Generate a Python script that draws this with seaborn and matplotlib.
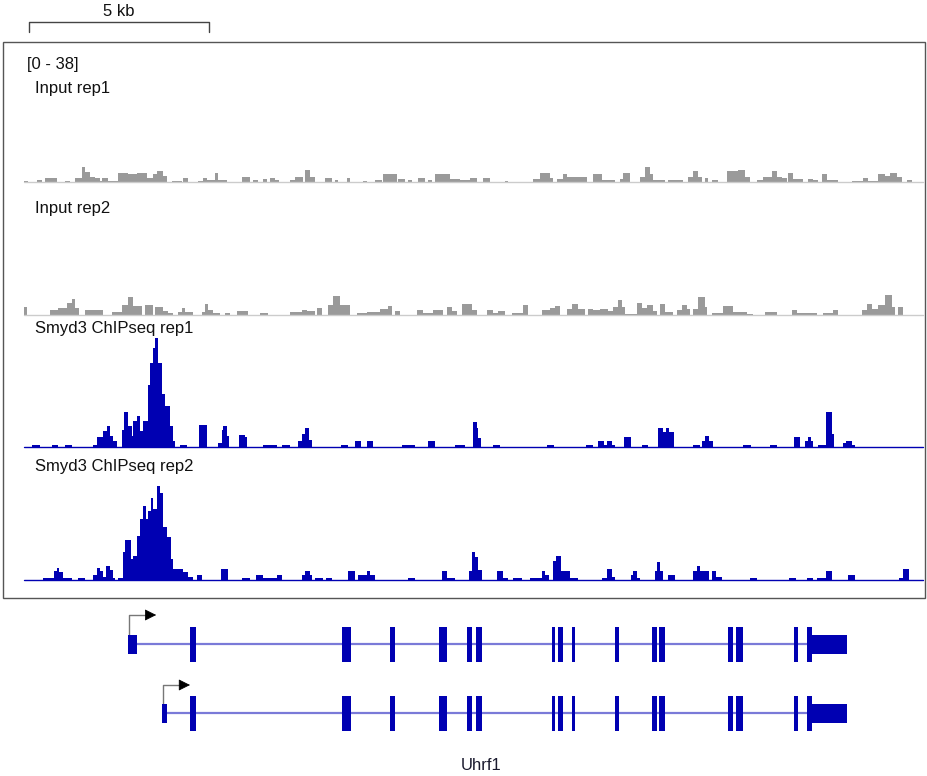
import matplotlib
matplotlib.use("Agg")
import numpy as np
import pandas as pd
import matplotlib.pyplot as plt
import seaborn as sns
from matplotlib.patches import Rectangle

# ---- data (positions in kb from left edge of the view, values on the [0 - 38] scale) ----
view_kb = (0, 24.97)
data_range = (0, 38)
scale_bar_kb = (0.14, 5.14)   # 5 kb

# (start, end, value) steps, like a bedGraph
input_rep1 = [
    (0.00, 0.11, 0.3), (0.36, 0.50, 0.6), (0.58, 0.92, 1.2), (1.14, 1.28, 0.3), (1.42, 1.61, 1.2),
    (1.61, 1.69, 4.5), (1.69, 1.83, 3.0), (1.83, 1.97, 1.5), (1.97, 2.11, 1.2), (2.11, 2.17, 0.3),
    (2.17, 2.33, 1.2), (2.33, 2.61, 0.3), (2.61, 2.89, 2.7), (2.89, 3.14, 2.4), (3.14, 3.42, 2.6),
    (3.42, 3.58, 1.2), (3.58, 3.69, 2.4), (3.69, 3.86, 3.3), (3.86, 3.97, 1.8), (4.11, 4.39, 0.3),
    (4.42, 4.56, 1.2), (4.83, 4.97, 0.3), (4.97, 5.08, 1.2), (5.08, 5.31, 0.6), (5.31, 5.39, 2.7),
    (5.39, 5.64, 0.6), (6.06, 6.28, 1.5), (6.36, 6.50, 0.6), (6.64, 6.75, 0.9), (6.83, 6.97, 1.2),
    (6.97, 7.08, 0.6), (7.39, 7.53, 0.6), (7.53, 7.75, 1.5), (7.81, 7.94, 3.6), (7.94, 8.08, 1.5),
    (8.36, 8.56, 1.2), (8.64, 8.72, 0.6), (8.97, 9.06, 1.2), (9.42, 9.53, 0.3), (9.75, 9.94, 0.6),
    (9.97, 10.36, 2.4), (10.39, 10.58, 0.9), (10.67, 10.78, 0.6), (10.94, 11.14, 1.2), (11.22, 11.33, 0.6),
    (11.42, 11.83, 2.4), (11.83, 12.11, 0.9), (12.11, 12.39, 0.6), (12.39, 12.58, 1.2), (12.75, 12.94, 1.2),
    (13.36, 13.44, 0.3), (14.14, 14.33, 0.9), (14.33, 14.61, 2.7), (14.61, 14.69, 1.2), (14.81, 14.97, 0.9),
    (14.97, 15.08, 2.4), (15.08, 15.64, 1.5), (15.81, 16.06, 2.4), (16.06, 16.42, 0.6), (16.56, 16.64, 0.9),
    (16.64, 16.83, 2.7), (17.11, 17.25, 1.5), (17.25, 17.39, 4.5), (17.39, 17.47, 2.4), (17.47, 17.81, 0.6),
    (17.89, 18.31, 0.6), (18.44, 18.58, 1.5), (18.58, 18.72, 3.3), (18.72, 18.83, 1.5), (18.92, 19.00, 1.2),
    (19.11, 19.28, 0.6), (19.53, 19.83, 3.3), (19.83, 20.03, 3.6), (20.03, 20.17, 1.5), (20.36, 20.53, 0.6),
    (20.53, 20.78, 1.5), (20.78, 20.92, 3.3), (20.92, 21.06, 1.5), (21.06, 21.19, 1.2), (21.22, 21.36, 2.7),
    (21.36, 21.64, 0.9), (21.78, 21.92, 0.9), (21.92, 22.06, 0.6), (22.17, 22.31, 2.4), (22.31, 22.61, 0.6),
    (23.00, 23.31, 0.3), (23.31, 23.44, 1.2), (23.44, 23.72, 0.3), (23.72, 23.92, 2.4), (23.92, 24.06, 1.8),
    (24.06, 24.25, 2.7), (24.25, 24.39, 1.5), (24.53, 24.67, 0.6),
]

input_rep2 = [
    (0.00, 0.08, 2.4), (0.72, 0.94, 1.5), (0.94, 1.19, 2.1), (1.19, 1.33, 3.6), (1.33, 1.42, 4.8),
    (1.42, 1.53, 2.1), (1.69, 2.19, 1.5), (2.44, 2.72, 0.9), (2.72, 2.89, 3.0), (2.89, 3.03, 5.5),
    (3.03, 3.28, 2.7), (3.36, 3.58, 3.0), (3.64, 3.86, 2.4), (3.86, 4.00, 1.2), (4.00, 4.14, 0.6),
    (4.28, 4.39, 0.9), (4.39, 4.47, 2.1), (4.47, 4.69, 0.9), (4.94, 5.03, 0.9), (5.03, 5.11, 3.4),
    (5.11, 5.25, 1.5), (5.25, 5.44, 0.6), (5.58, 5.72, 0.6), (5.92, 6.22, 1.2), (6.56, 6.78, 0.6),
    (7.39, 7.72, 0.9), (7.72, 7.86, 1.5), (7.86, 8.08, 1.2), (8.14, 8.28, 2.2), (8.44, 8.58, 3.0),
    (8.58, 8.78, 5.8), (8.78, 9.06, 3.0), (9.25, 9.53, 0.6), (9.53, 9.89, 0.9), (9.89, 10.11, 1.8),
    (10.11, 10.22, 2.7), (10.31, 10.44, 1.2), (10.92, 11.08, 1.5), (11.08, 11.36, 0.6), (11.36, 11.64, 1.5),
    (11.75, 11.89, 2.4), (11.89, 12.03, 1.2), (12.17, 12.44, 3.2), (12.44, 12.58, 1.5), (12.86, 13.03, 1.5),
    (13.03, 13.17, 0.6), (13.17, 13.36, 1.2), (13.56, 13.86, 0.6), (13.86, 14.00, 3.0), (14.39, 14.61, 1.5),
    (14.61, 14.75, 2.1), (14.75, 14.89, 2.7), (15.08, 15.22, 1.8), (15.22, 15.39, 3.3), (15.39, 15.58, 1.8),
    (15.67, 15.81, 1.8), (15.81, 16.00, 1.5), (16.00, 16.22, 1.8), (16.22, 16.36, 1.2), (16.36, 16.50, 2.4),
    (16.50, 16.61, 4.7), (16.61, 16.69, 2.4), (16.69, 17.03, 0.3), (17.03, 17.17, 3.6), (17.17, 17.31, 2.1),
    (17.31, 17.47, 3.0), (17.47, 17.58, 1.2), (17.67, 17.81, 3.3), (17.81, 18.03, 0.9), (18.14, 18.28, 1.5),
    (18.28, 18.42, 3.0), (18.42, 18.50, 1.8), (18.58, 18.72, 1.8), (18.72, 18.92, 5.5), (18.92, 18.97, 2.4),
    (19.11, 19.42, 0.6), (19.42, 19.69, 2.7), (19.69, 20.08, 1.0), (20.08, 20.25, 0.3), (20.58, 20.92, 0.9),
    (21.33, 21.47, 1.5), (21.47, 22.03, 0.6), (22.19, 22.47, 0.6), (22.47, 22.61, 1.5), (23.28, 23.42, 1.5),
    (23.42, 23.56, 3.3), (23.56, 23.72, 1.8), (23.72, 23.92, 3.0), (23.92, 24.11, 6.2), (24.11, 24.19, 2.4),
    (24.28, 24.42, 2.4),
]

smyd3_rep1 = [
    (0.22, 0.44, 0.7), (0.78, 0.94, 0.7), (1.14, 1.33, 0.7), (1.92, 2.03, 0.7), (2.03, 2.19, 3.0),
    (2.19, 2.31, 5.0), (2.31, 2.39, 6.3), (2.39, 2.47, 3.2), (2.47, 2.58, 1.7), (2.72, 2.78, 5.2),
    (2.78, 2.89, 10.5), (2.89, 3.00, 6.3), (3.00, 3.03, 3.2), (3.03, 3.14, 7.8), (3.14, 3.22, 9.5),
    (3.22, 3.31, 5.0), (3.31, 3.44, 7.8), (3.44, 3.50, 19.0), (3.50, 3.58, 25.5), (3.58, 3.64, 30.0),
    (3.64, 3.72, 33.0), (3.72, 3.83, 25.5), (3.83, 3.92, 16.0), (3.92, 4.06, 12.4), (4.06, 4.14, 6.3),
    (4.14, 4.19, 1.7), (4.33, 4.53, 0.7), (4.86, 5.08, 6.6), (5.39, 5.50, 1.2), (5.50, 5.53, 5.2),
    (5.53, 5.64, 6.4), (5.64, 5.69, 3.2), (5.97, 6.14, 3.5), (6.14, 6.19, 3.0), (6.64, 7.03, 0.7),
    (7.17, 7.39, 0.7), (7.61, 7.72, 1.7), (7.72, 7.81, 4.0), (7.81, 7.92, 5.7), (7.92, 8.00, 2.2),
    (8.81, 9.00, 0.7), (9.19, 9.36, 1.7), (9.53, 9.69, 1.7), (10.50, 10.86, 0.7), (11.22, 11.42, 1.7),
    (11.97, 12.25, 0.7), (12.46, 12.57, 7.5), (12.57, 12.62, 5.8), (12.62, 12.69, 2.7), (13.03, 13.22, 0.7),
    (14.53, 14.72, 0.7), (15.61, 15.81, 0.7), (15.94, 16.11, 1.7), (16.11, 16.19, 0.7), (16.19, 16.33, 1.7),
    (16.33, 16.42, 0.7), (16.67, 16.86, 2.9), (17.17, 17.33, 0.7), (17.61, 17.75, 5.8), (17.75, 17.83, 4.7),
    (17.83, 17.92, 5.8), (17.92, 18.06, 4.7), (18.58, 18.78, 0.7), (18.83, 18.92, 1.9), (18.92, 19.03, 3.4),
    (19.03, 19.14, 1.7), (19.97, 20.19, 0.7), (20.72, 20.92, 0.7), (21.39, 21.56, 2.9), (21.69, 21.78, 1.7),
    (21.78, 21.86, 2.9), (21.86, 21.92, 1.7), (22.06, 22.28, 0.7), (22.28, 22.44, 10.5), (22.44, 22.50, 4.0),
    (22.75, 22.83, 1.2), (22.83, 23.00, 1.7), (23.00, 23.08, 0.7),
]

smyd3_rep2 = [
    (0.53, 0.83, 0.6), (0.83, 0.92, 2.6), (0.92, 0.97, 3.5), (0.97, 1.08, 2.5), (1.08, 1.33, 0.6),
    (1.50, 1.69, 0.6), (1.92, 2.03, 1.6), (2.03, 2.11, 3.8), (2.11, 2.19, 2.8), (2.19, 2.28, 1.0),
    (2.28, 2.39, 4.3), (2.39, 2.47, 3.0), (2.47, 2.53, 0.6), (2.61, 2.75, 0.6), (2.75, 2.81, 8.4),
    (2.81, 2.97, 12.1), (2.97, 3.03, 6.4), (3.03, 3.14, 7.4), (3.14, 3.22, 13.4), (3.22, 3.31, 18.5),
    (3.31, 3.39, 22.5), (3.39, 3.44, 18.5), (3.44, 3.53, 21.0), (3.53, 3.58, 25.0), (3.58, 3.69, 21.5),
    (3.69, 3.78, 28.5), (3.78, 3.86, 26.6), (3.86, 3.97, 16.0), (3.97, 4.08, 13.0), (4.08, 4.14, 6.4),
    (4.14, 4.42, 3.3), (4.42, 4.56, 2.3), (4.56, 4.69, 1.0), (4.81, 4.94, 1.6), (5.47, 5.67, 3.3),
    (6.06, 6.28, 0.6), (6.44, 6.64, 1.6), (6.64, 7.03, 0.6), (7.03, 7.17, 1.6), (7.72, 7.81, 1.6),
    (7.81, 7.94, 2.8), (7.94, 8.00, 1.6), (8.08, 8.31, 0.6), (8.39, 8.56, 0.6), (9.00, 9.19, 2.8),
    (9.28, 9.53, 1.6), (9.53, 9.61, 2.8), (9.61, 9.75, 1.6), (10.67, 10.86, 0.6), (11.61, 11.75, 2.8),
    (11.75, 11.97, 0.6), (12.36, 12.44, 2.8), (12.44, 12.53, 8.4), (12.53, 12.61, 7.1), (12.61, 12.72, 3.0),
    (13.14, 13.31, 2.6), (13.31, 13.44, 0.6), (13.58, 13.83, 0.6), (14.06, 14.39, 0.6), (14.39, 14.47, 2.6),
    (14.47, 14.58, 1.5), (14.69, 14.78, 5.8), (14.78, 14.92, 7.3), (14.92, 15.17, 2.6), (15.17, 15.39, 0.6),
    (16.06, 16.19, 0.6), (16.19, 16.33, 3.3), (16.33, 16.42, 1.0), (16.86, 16.92, 1.6), (16.92, 17.03, 2.6),
    (17.03, 17.11, 0.6), (17.53, 17.58, 2.6), (17.58, 17.67, 5.6), (17.67, 17.75, 2.8), (17.89, 18.08, 1.5),
    (18.58, 18.69, 2.6), (18.69, 18.78, 4.3), (18.78, 19.03, 2.6), (19.11, 19.22, 2.6), (19.22, 19.39, 1.0),
    (20.17, 20.36, 0.6), (21.25, 21.44, 0.6), (21.75, 21.92, 0.6), (22.03, 22.28, 0.6), (22.28, 22.44, 2.6),
    (22.89, 23.08, 1.5), (24.31, 24.42, 0.6), (24.42, 24.58, 3.3),
]

track_names = ["Input rep1", "Input rep2", "Smyd3 ChIPseq rep1", "Smyd3 ChIPseq rep2"]
track_data = [input_rep1, input_rep2, smyd3_rep1, smyd3_rep2]

# Uhrf1 gene models (kb)
gene_name = "Uhrf1"
exon_start = [4.61, 8.83, 10.17, 11.53, 12.31, 12.56, 14.67, 14.83, 15.22, 16.42, 17.44, 17.64, 19.56, 19.78, 21.39, 21.75]
exon_end = [4.78, 9.08, 10.31, 11.75, 12.44, 12.72, 14.75, 14.97, 15.31, 16.53, 17.58, 17.81, 19.69, 19.97, 21.50, 21.89]
tx_first_exon = [(2.89, 3.14), (3.83, 3.97)]   # 5' UTR exon of each transcript
utr3 = (21.89, 22.86)
tss_arrow_kb = 0.78

# ---- layout (pixels of the 928 x 776 picture) ----
W, H = 928, 776
X0, X1 = 24, 923
track_base = [182, 315, 447, 580]
track_h = 125
label_y = [93, 213, 333, 471]

gray = "#9a9a9a"
blue = "#0000b2"
track_colors = [gray, gray, blue, blue]
base_colors = ["#cccccc", "#cccccc", blue, blue]

sns.set_theme(style="white")
plt.rcParams["font.family"] = ["Liberation Sans", "DejaVu Sans"]
fs = 12

fig = plt.figure(figsize=(W / 100, H / 100), dpi=100)


def fig_rect(left, top, right, bottom):
    return [left / W, 1 - bottom / H, (right - left) / W, (bottom - top) / H]


def step_points(df):
    # bedGraph steps -> breakpoints for a 'post' step fill; gaps become zero
    xs, ys = [], []
    prev_end = None
    for s, e, v in df.itertuples(index=False):
        if prev_end is not None and s > prev_end:
            xs.append(prev_end)
            ys.append(0.0)
        xs.append(s)
        ys.append(v)
        prev_end = e
    xs.append(prev_end)
    ys.append(0.0)
    return np.array(xs), np.array(ys)


for name, segs, base, col, bcol, ly in zip(track_names, track_data, track_base,
                                          track_colors, base_colors, label_y):
    df = pd.DataFrame(segs, columns=["start", "end", "value"])
    ax = fig.add_axes(fig_rect(X0, base - track_h, X1, base))
    ax.patch.set_alpha(0)
    xs, ys = step_points(df)
    ax.fill_between(xs, ys, 0, step="post", color=col, linewidth=0)
    ax.axhline(0, color=bcol, lw=1, clip_on=False)
    ax.set_xlim(*view_kb)
    ax.set_ylim(*data_range)
    ax.axis("off")
    fig.text(35 / W, 1 - ly / H, name, fontsize=fs, color="#111111", va="baseline")

fig.text(27 / W, 1 - 69 / H, "[0 - 38]", fontsize=fs, color="#111111", va="baseline")

# scale bar
ax_s = fig.add_axes(fig_rect(X0, 0, X1, 40))
ax_s.patch.set_alpha(0)
ax_s.set_xlim(*view_kb)
ax_s.set_ylim(40, 0)
sx0, sx1 = scale_bar_kb
ax_s.plot([sx0, sx0, sx1, sx1], [32, 22, 22, 32], color="#444444", lw=1)
ax_s.text((sx0 + sx1) / 2, 15.7, "5 kb", ha="center", va="baseline", fontsize=fs, color="#111111")
ax_s.axis("off")

# panel frame
fig.add_artist(Rectangle((3 / W, 1 - 598 / H), (925 - 3) / W, (598 - 42) / H,
                         transform=fig.transFigure, fill=False, ec="#555555", lw=1))

# gene models
ax_g = fig.add_axes(fig_rect(X0, 600, X1, 740))
ax_g.patch.set_alpha(0)
ax_g.set_xlim(*view_kb)
ax_g.set_ylim(140, 0)
rows = [44, 113]        # y centre of each transcript row
exon_h, utr_h = 35, 19
arrow_top = [15, 85]
widths = [e - s for s, e in zip(exon_start, exon_end)]
for (fs0, fs1), yc, ytop in zip(tx_first_exon, rows, arrow_top):
    ax_g.plot([fs0, utr3[1]], [yc, yc], color="#7a7ad8", lw=1.6, solid_capstyle="butt", zorder=1)
    ax_g.broken_barh(list(zip(exon_start, widths)), (yc - exon_h / 2, exon_h),
                     facecolor=blue, lw=0, zorder=3)
    ax_g.broken_barh([(fs0, fs1 - fs0), (utr3[0], utr3[1] - utr3[0])],
                     (yc - utr_h / 2, utr_h), facecolor=blue, lw=0, zorder=3)
    # transcription start arrow
    ax_g.plot([fs0 + 0.03, fs0 + 0.03, fs0 + tss_arrow_kb - 0.2],
              [yc - utr_h / 2, ytop, ytop], color="#777777", lw=1)
    ax_g.annotate("", xy=(fs0 + tss_arrow_kb, ytop), xytext=(fs0 + tss_arrow_kb - 0.22, ytop),
                  arrowprops=dict(arrowstyle="-|>,head_length=0.6,head_width=0.3",
                                  color="black", lw=0.5, shrinkA=0, shrinkB=0))
ax_g.text(12.7, 170, gene_name, ha="center", va="baseline",
          fontsize=fs, color="#1a1a2e", clip_on=False)
ax_g.axis("off")

fig.savefig("out.png", dpi=100, facecolor="white")
